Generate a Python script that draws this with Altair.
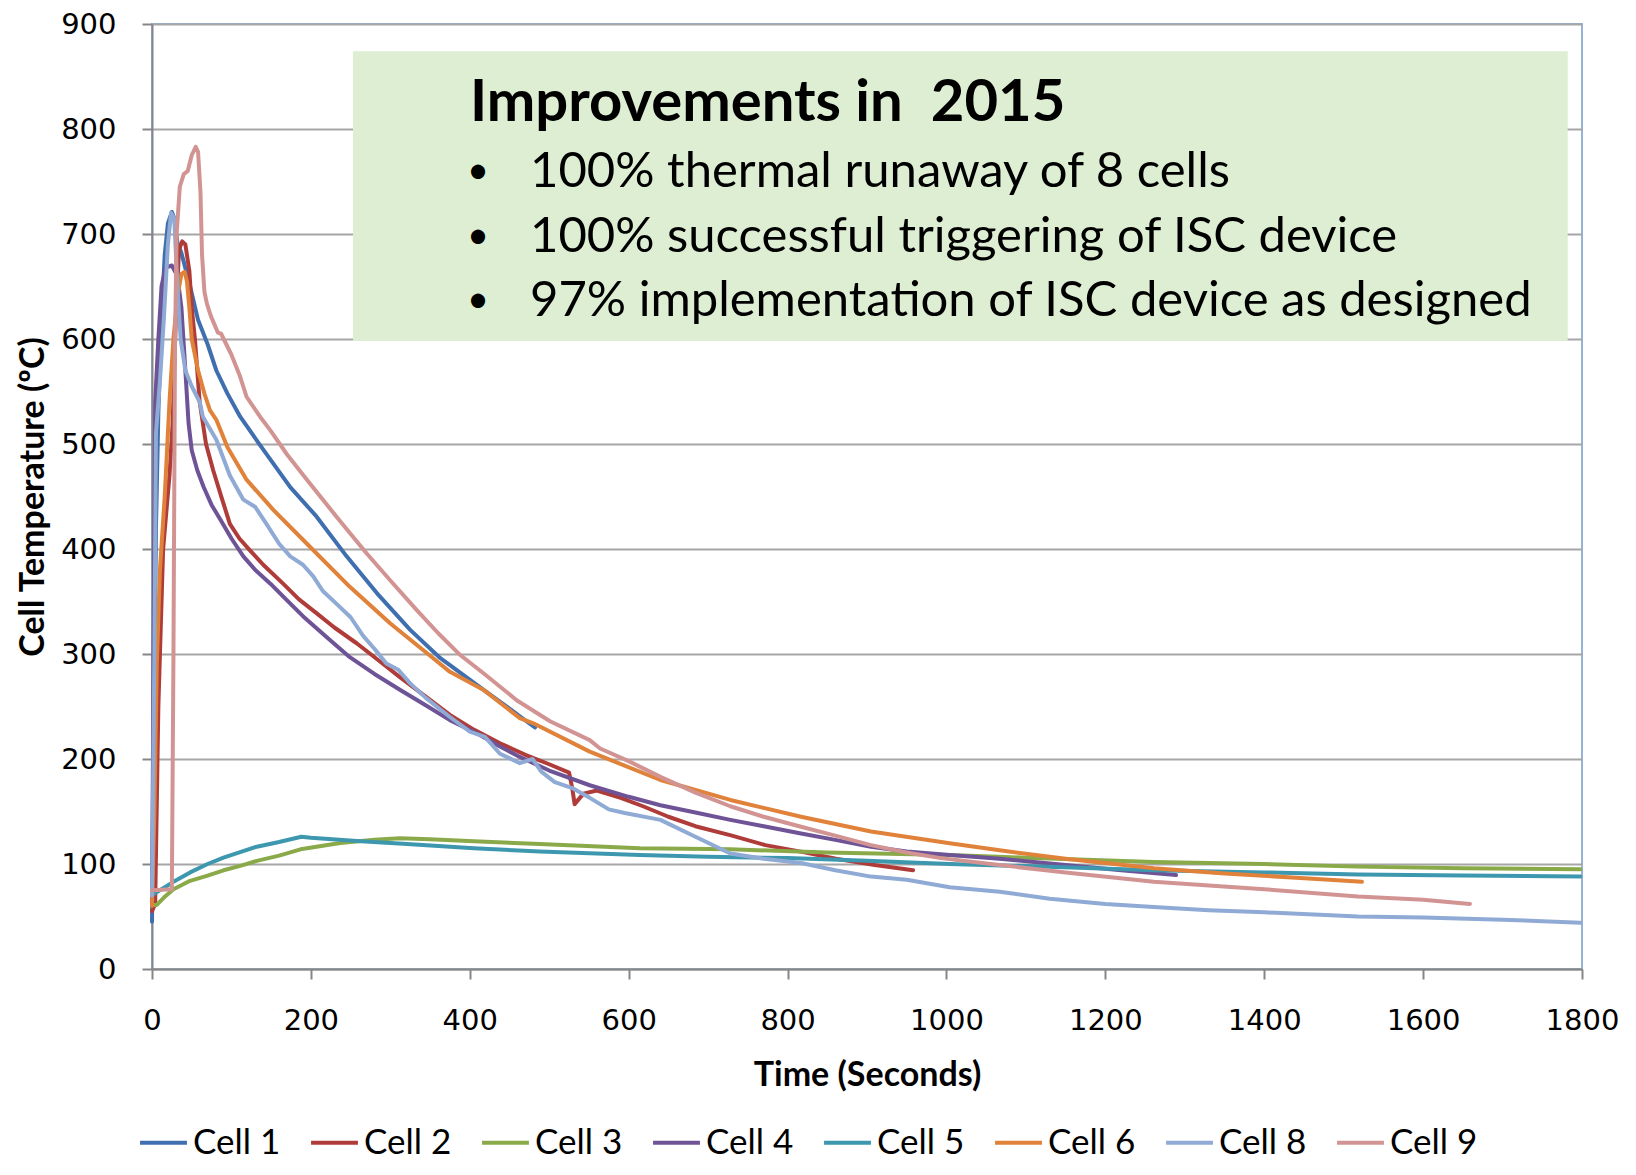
import altair as alt
import pandas as pd

cells = ["Cell 1", "Cell 2", "Cell 3", "Cell 4", "Cell 5", "Cell 6", "Cell 8", "Cell 9"]
colors = ["#3F6FAF", "#B03C3A", "#8AAA4A", "#6E5396", "#3D98AF", "#E0823A", "#8FAAD4", "#D29493"]

t1 = [0, 2, 5, 8, 12, 16, 20, 25, 28, 32, 37, 48, 58, 70, 81, 95, 111, 136, 174, 207, 245, 283, 325, 363, 417, 450, 482]
v1 = [45, 200, 420, 530, 620, 680, 710, 721, 715, 692, 682, 650, 618, 595, 570, 548, 526, 499, 459, 431, 393, 358, 323, 296, 266, 248, 230]

t2 = [0, 4, 8, 14, 22, 26, 30, 34, 38, 42, 47, 50, 54, 60, 68, 77, 88, 98, 110, 123, 140, 165, 185, 207, 230, 258, 285, 312, 340, 375, 405, 438, 470, 500, 525, 529, 532, 543, 560, 590, 618, 650, 684, 730, 772, 815, 861, 910, 958]
v2 = [55, 62, 250, 400, 470, 520, 620, 685, 693, 690, 665, 630, 600, 540, 500, 475, 448, 424, 410, 399, 385, 367, 352, 339, 325, 310, 294, 278, 262, 242, 228, 215, 204, 195, 187, 172, 157, 167, 170, 163, 155, 145, 136, 127, 118, 112, 105, 99, 94]

t3 = [0, 6, 15, 27, 48, 70, 90, 110, 132, 160, 187, 237, 280, 312, 350, 405, 488, 614, 728, 850, 1004, 1100, 1261, 1400, 1518, 1650, 1798]
v3 = [61, 61, 68, 76, 84, 89, 94, 98, 103, 108, 114, 120, 123, 124.6, 123.5, 121.6, 119, 115, 114, 111, 108.6, 106, 102, 100, 97.5, 96, 95]

t4 = [0, 2, 4, 8, 12, 17, 25, 32, 37, 42, 46, 50, 57, 65, 75, 86, 100, 115, 130, 149, 170, 190, 220, 249, 280, 312, 345, 375, 410, 438, 463, 500, 551, 600, 640, 684, 728, 770, 817, 860, 905, 950, 1004, 1067, 1150, 1220, 1289]
v4 = [60, 300, 540, 600, 650, 668, 670, 660, 630, 570, 520, 494, 475, 459, 442, 428, 410, 393, 380, 367, 351, 336, 316, 297, 281, 266, 251, 237, 224, 212, 202, 189, 175, 164, 156, 149, 142, 136, 129, 123, 116.5, 112, 108.6, 105, 99, 94, 89.5]

t5 = [0, 3, 10, 27, 48, 70, 90, 110, 132, 160, 188, 200, 258, 321, 405, 488, 614, 700, 800, 900, 1004, 1100, 1261, 1400, 1518, 1650, 1798]
v5 = [70, 72, 75, 83, 92, 100, 106, 111, 116.5, 121, 126, 125, 122, 119, 115, 112, 108.6, 107, 105.6, 103, 100, 98, 94, 92, 90, 89, 88]

t6 = [0, 3, 6, 10, 16, 22, 27, 32, 37, 41, 44, 47, 50, 54, 58, 66, 73, 81, 95, 119, 153, 195, 249, 300, 354, 375, 417, 463, 480, 551, 640, 728, 817, 905, 1004, 1067, 1150, 1261, 1350, 1440, 1523]
v6 = [60, 150, 290, 380, 450, 540, 600, 640, 662, 664, 655, 630, 600, 585, 570, 548, 532, 523, 497, 466, 437, 405, 364, 329, 296, 283, 266, 239, 234, 207, 180, 161, 145, 131, 119.7, 113, 105, 96, 91, 87, 83]

t8 = [0, 3, 5, 10, 15, 20, 24, 28, 32, 36, 42, 50, 60, 64, 81, 98, 115, 130, 144, 160, 174, 190, 203, 215, 232, 250, 266, 280, 295, 310, 325, 345, 375, 400, 419, 438, 463, 479, 490, 507, 530, 551, 575, 595, 640, 684, 728, 770, 817, 860, 905, 950, 1004, 1067, 1130, 1200, 1261, 1330, 1400, 1518, 1600, 1700, 1798]
v8 = [70, 300, 510, 560, 620, 690, 720, 715, 650, 600, 570, 555, 540, 526, 504, 470, 447, 440, 424, 405, 393, 385, 374, 360, 348, 335, 317, 305, 291, 285, 272, 258, 240, 226, 221, 205, 196, 200, 188, 178, 172, 163, 152, 148.6, 142, 126, 110, 105, 101, 94, 88, 85, 77.8, 73.6, 67, 62, 59, 56, 54, 50, 49, 47, 44]

t9 = [0, 25, 27, 29, 31, 35, 40, 45, 50, 55, 58, 61, 63, 66, 69, 74, 83, 87, 100, 111, 119, 136, 149, 170, 195, 232, 270, 300, 333, 360, 388, 420, 459, 501, 551, 564, 600, 640, 684, 728, 770, 817, 860, 905, 950, 993, 1067, 1150, 1261, 1400, 1518, 1600, 1659]
v9 = [75, 76, 300, 600, 700, 745, 757, 760, 775, 783, 778, 740, 680, 645, 634, 622, 606, 605, 585, 564, 545, 526, 513, 490, 466, 431, 396, 370, 342, 320, 299, 280, 256, 236, 218, 210, 198, 183, 168, 155, 145, 135.5, 127, 118, 111, 105.6, 99, 92, 83, 76, 69, 66, 62]

x_ticks = [0, 200, 400, 600, 800, 1000, 1200, 1400, 1600, 1800]
y_ticks = [0, 100, 200, 300, 400, 500, 600, 700, 800, 900]

title_text = "Improvements in\u00a0 2015"
bullets = [
    "100% thermal runaway of 8 cells",
    "100% successful triggering of ISC device",
    "97% implementation of ISC device as designed",
]

series = [t1, v1, t2, v2, t3, v3, t4, v4, t5, v5, t6, v6, t8, v8, t9, v9]
rows = []
for i, name in enumerate(cells):
    ts, vs = series[2 * i], series[2 * i + 1]
    for t, v in zip(ts, vs):
        rows.append({"cell": name, "time": t, "temp": v})
df = pd.DataFrame(rows)

W, H = 1430, 945

lines = alt.Chart(df).mark_line(strokeWidth=4, strokeCap="round", strokeJoin="round").encode(
    x=alt.X("time:Q", scale=alt.Scale(domain=[0, 1800], nice=False),
            axis=alt.Axis(values=x_ticks, format="d", title="Time (Seconds)", grid=False,
                          labelFlush=False, labelPadding=27, titlePadding=23)),
    y=alt.Y("temp:Q", scale=alt.Scale(domain=[0, 900], nice=False),
            axis=alt.Axis(values=y_ticks, format="d", title="Cell Temperature (ºC)", grid=True,
                          labelFlush=False, labelPadding=26, titlePadding=10)),
    color=alt.Color("cell:N", scale=alt.Scale(domain=cells, range=colors),
                    legend=alt.Legend(orient="none", legendX=-14, legendY=1093,
                                      direction="horizontal", title=None,
                                      symbolType="stroke", symbolSize=2200,
                                      symbolStrokeWidth=4, labelFontSize=35,
                                      labelFont="Lato", labelColor="#000",
                                      labelOffset=4, columnPadding=22)),
)

box_df = pd.DataFrame({"x": [253], "x2": [1782], "y": [598], "y2": [874]})
box = alt.Chart(box_df).mark_rect(color="#DDEED3").encode(
    x="x:Q", x2="x2:Q", y="y:Q", y2="y2:Q")

texts = []
texts.append(alt.Chart(pd.DataFrame({"s": [title_text]})).mark_text(
    align="left", baseline="middle", font="Lato", fontSize=58, fontWeight="bold", color="#000"
).encode(x=alt.value(318), y=alt.value(80), text="s:N"))
for s, yy in zip(bullets, [148, 213, 277]):
    texts.append(alt.Chart(pd.DataFrame({"s": ["•"]})).mark_text(
        align="center", baseline="middle", font="Lato", fontSize=38, color="#000"
    ).encode(x=alt.value(326), y=alt.value(yy), text="s:N"))
    texts.append(alt.Chart(pd.DataFrame({"s": [s]})).mark_text(
        align="left", baseline="middle", font="Lato", fontSize=49, color="#000"
    ).encode(x=alt.value(378), y=alt.value(yy), text="s:N"))

chart = alt.layer(box, lines, *texts).properties(
    width=W, height=H,
    autosize=alt.AutoSizeParams(type="none"),
    padding={"left": 144, "top": 16, "right": 46, "bottom": 194},
).configure_view(
    stroke="#95B3D7", strokeWidth=2
).configure_axis(
    domainColor="#868686", domainWidth=2, tickColor="#868686", tickWidth=2, tickSize=10,
    gridColor="#A6A6A6", gridWidth=2,
    labelFont="DejaVu Sans", labelFontSize=29, labelColor="#000",
    titleFont="Lato", titleFontSize=34, titleFontWeight="bold", titleColor="#000",
)

chart.save("out.html", embed_options={"renderer": "svg", "actions": False})
